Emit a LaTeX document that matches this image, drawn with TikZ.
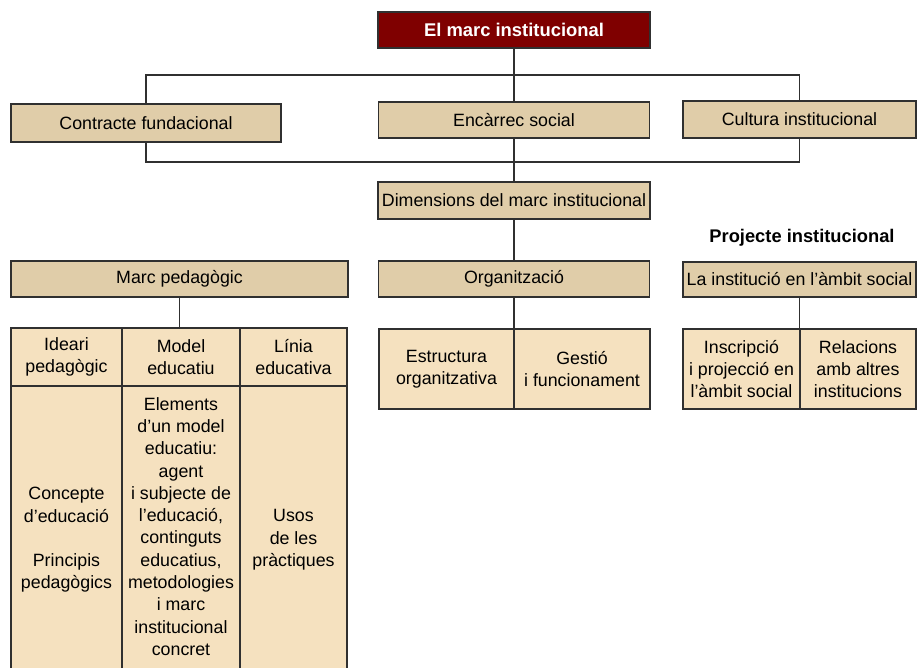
\documentclass[tikz,border=0pt]{standalone}
\usepackage{fontspec}
\setmainfont{Liberation Sans}
\definecolor{darkred}{HTML}{7F0000}
\definecolor{headtan}{HTML}{E0CDA9}
\definecolor{celltan}{HTML}{F5E1BF}
\definecolor{edgegray}{HTML}{303030}

\begin{document}
\begin{tikzpicture}[x = 1pt, y = -1pt]
\tikzstyle{HeadBox}=[shape = rectangle, draw = edgegray, line width = 1.2pt,
fill = headtan, inner sep = 0pt, align = center]
\tikzstyle{TopBox}=[HeadBox, fill = darkred, text = white, font = \bfseries\fontsize{18.4}{22.3}\selectfont]
\tikzstyle{CellBox}=[shape = rectangle, draw = edgegray, line width = 1.2pt,
fill = celltan, inner sep = 0pt, align = center]
\tikzstyle{Wire}=[draw = edgegray, line width = 1.2pt]
\fontsize{17.8}{22.3}\selectfont
\clip (0,0) rectangle (919,668);
\fill[white] (0,0) rectangle (919,668);
% top level
\node[TopBox, minimum width = 272pt, minimum height = 36pt] (marc) at (514, 30) {El marc institucional};
\node[HeadBox, minimum width = 270pt, minimum height = 38pt] (contr) at (146, 123) {Contracte fundacional};
\node[HeadBox, minimum width = 271pt, minimum height = 36pt] (enc) at (514, 120) {Encàrrec social};
\node[HeadBox, minimum width = 233pt, minimum height = 37pt] (cult) at (799.5, 119.5) {Cultura institucional};
\node[HeadBox, minimum width = 272pt, minimum height = 37pt] (dim) at (514, 200.5) {Dimensions del marc institucional};
\coordinate (bustop) at (514, 75);
\coordinate (busbot) at (514, 162);
% dimensions
\node[HeadBox, minimum width = 337pt, minimum height = 36pt] (ped) at (179.5, 279) {Marc pedagògic};
\node[HeadBox, minimum width = 271pt, minimum height = 36pt] (org) at (514, 279) {Organització};
\node[HeadBox, minimum width = 233pt, minimum height = 35pt] (soc) at (799.5, 279.5) {La institució en l’àmbit social};
\node[font = \bfseries\fontsize{18.3}{22}\selectfont] (proj) at (802, 238) {Projecte institucional};
% organitzacio
\node[CellBox, minimum width = 135pt, minimum height = 80pt] (estr) at (446.5, 369) {Estructura\\organitzativa};
\node[CellBox, minimum width = 136pt, minimum height = 80pt] (gest) at (582, 369) {Gestió\\i funcionament};
% ambit social
\node[CellBox, minimum width = 117pt, minimum height = 80pt] (inscr) at (741.5, 369) {Inscripció\\i projecció en\\l’àmbit social};
\node[CellBox, minimum width = 116pt, minimum height = 80pt] (rel) at (858, 369) {Relacions\\amb altres\\institucions};
% marc pedagogic
\node[CellBox, minimum width = 111pt, minimum height = 58pt] (ideari) at (66.5, 357) {Ideari\\pedagògic};
\node[CellBox, minimum width = 118pt, minimum height = 58pt] (model) at (181, 357) {Model\\educatiu};
\node[CellBox, minimum width = 107pt, minimum height = 58pt] (linia) at (293.5, 357) {Línia\\educativa};
\node[CellBox, minimum width = 111pt, minimum height = 308pt] (idearib) at (66.5, 540) {Concepte\\d’educació\\[22.3pt]Principis\\pedagògics};
\node[CellBox, minimum width = 118pt, minimum height = 308pt] (modelb) at (181, 540) {};
\node[anchor = north, align = center, inner sep = 0pt] (modelt) at (181, 397) {Elements\\d’un model\\educatiu:\\agent\\i subjecte de\\l’educació,\\continguts\\educatius,\\metodologies\\i marc\\institucional\\concret};
\node[CellBox, minimum width = 107pt, minimum height = 308pt] (liniab) at (293.5, 540) {Usos\\de les\\pràctiques};
% connectors
\draw[Wire] (marc) -- (enc);
\draw[Wire] (contr.north) |- (bustop) -| (cult.north);
\draw[Wire] (contr.south) |- (busbot) -| (cult.south);
\draw[Wire] (enc) -- (dim);
\draw[Wire] (dim) -- (org);
\draw[Wire] (org.south) -- (org.south |- gest.north);
\draw[Wire] (ped.south) -- (ped.south |- model.north);
\draw[Wire] (soc.south) -- (soc.south |- rel.north);
\end{tikzpicture}
\end{document}
